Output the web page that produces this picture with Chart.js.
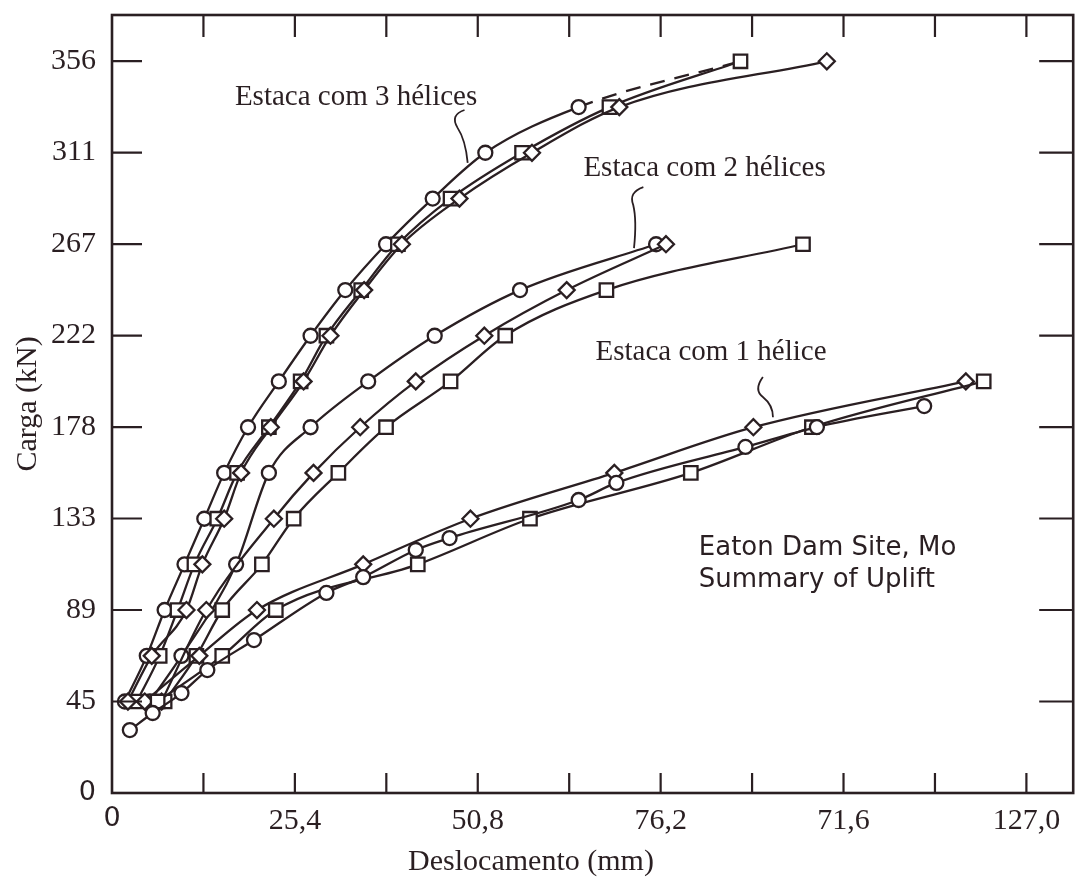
<!DOCTYPE html>
<html>
<head>
<meta charset="utf-8">
<script src="https://cdn.jsdelivr.net/npm/chart.js@4.4.1/dist/chart.umd.min.js"></script>
<style>
  html, body { margin: 0; padding: 0; background: #fff; }
  canvas { display: block; }
</style>
</head>
<body>
<canvas id="chart" width="1085" height="878"></canvas>
<script>
// Axis ticks (mm and kN; the load scale is in steps of 10 kips = 44.5 kN)
const xTickValues = [0, 12.7, 25.4, 38.1, 50.8, 63.5, 76.2, 88.9, 101.6, 114.3, 127.0];
const xTickLabels = ['0', '', '25,4', '', '50,8', '', '76,2', '', '71,6', '', '127,0'];
const yTickValues = [0, 44.5, 89, 133.5, 178, 222.5, 267, 311.5, 356];
const yTickLabels = ['0', '45', '89', '133', '178', '222', '267', '311', '356'];

// Estaca com 3 hélices
const h3aDisp = [1.79, 4.83, 7.31, 10.07, 12.82, 15.58, 18.89, 23.17, 27.58, 32.40, 38.06, 44.54, 51.85, 64.81, 87.29];
const h3aLoad = [44.5, 66.7, 89.0, 111.2, 133.4, 155.7, 177.9, 200.2, 222.4, 244.6, 266.9, 289.1, 311.4, 333.6, 355.9];
const h3bDisp = [3.45, 6.62, 9.10, 11.45, 14.62, 17.37, 21.79, 26.20, 29.78, 34.61, 39.71, 47.02, 56.95, 69.09, 87.29];
const h3bLoad = [44.5, 66.7, 89.0, 111.2, 133.4, 155.7, 177.9, 200.2, 222.4, 244.6, 266.9, 289.1, 311.4, 333.6, 355.9];
const h3cDisp = [2.21, 5.52, 10.34, 12.55, 15.58, 17.93, 22.06, 26.61, 30.34, 35.02, 40.26, 48.26, 58.33, 70.46, 99.28];
const h3cLoad = [44.5, 66.7, 89.0, 111.2, 133.4, 155.7, 177.9, 200.2, 222.4, 244.6, 266.9, 289.1, 311.4, 333.6, 355.9];

// Estaca com 2 hélices
const h2aDisp = [5.24, 9.65, 17.24, 21.79, 27.58, 35.58, 44.82, 56.67, 75.57];
const h2aLoad = [44.5, 66.7, 111.2, 155.7, 177.9, 200.2, 222.4, 244.6, 266.9];
const h2bDisp = [6.89, 13.10, 22.48, 27.99, 34.47, 42.19, 51.71, 63.15, 76.94];
const h2bLoad = [44.5, 89.0, 133.4, 155.7, 177.9, 200.2, 222.4, 244.6, 266.9];
const h2cDisp = [7.31, 11.72, 15.31, 20.82, 25.23, 31.44, 38.06, 47.02, 54.61, 68.67, 95.97];
const h2cLoad = [44.5, 66.7, 89.0, 111.2, 133.4, 155.7, 177.9, 200.2, 222.4, 244.6, 266.9];

// Estaca com 1 hélice
const h1aDisp = [4.55, 12.13, 20.13, 34.89, 49.78, 69.77, 89.08, 118.59];
const h1aLoad = [44.5, 66.7, 89.0, 111.2, 133.4, 155.7, 177.9, 200.2];
const h1bDisp = [6.34, 15.31, 22.75, 42.47, 58.05, 80.39, 97.21, 121.07];
const h1bLoad = [44.5, 66.7, 89.0, 111.2, 133.4, 155.7, 177.9, 200.2];
const h1cDisp = [2.48, 5.65, 9.65, 13.24, 19.72, 29.78, 34.89, 42.19, 46.88, 64.81, 70.05, 87.98, 97.90, 112.80];
const h1cLoad = [30.6, 38.9, 48.6, 59.8, 74.4, 97.3, 105.0, 118.2, 124.0, 142.5, 150.8, 168.3, 178.0, 188.2];

const INK = '#2a1f22';
const SERIF = '"Liberation Serif", "Times New Roman", serif';
const SANS = '"DejaVu Sans", sans-serif';

function series(disp, load, style, radius, extra) {
  return Object.assign({
    data: disp.map((x, i) => ({ x: x, y: load[i] })),
    showLine: true,
    borderColor: INK,
    borderWidth: 2.3,
    cubicInterpolationMode: 'monotone',
    fill: false,
    clip: false,
    pointStyle: style,
    pointRadius: radius,
    pointBackgroundColor: '#fff',
    pointBorderColor: INK,
    pointBorderWidth: 2.3
  }, extra || {});
}

const lastA = h3aDisp.length - 1;

const datasets = [
  series(h1cDisp, h1cLoad, 'circle', 7),
  series(h1bDisp, h1bLoad, 'rect', 9.5),
  series(h1aDisp, h1aLoad, 'rectRot', 8),
  series(h2cDisp, h2cLoad, 'rect', 9.5),
  series(h2bDisp, h2bLoad, 'rectRot', 8),
  series(h2aDisp, h2aLoad, 'circle', 7),
  series(h3cDisp, h3cLoad, 'rectRot', 8),
  series(h3bDisp, h3bLoad, 'rect', 9.5),
  series(h3aDisp, h3aLoad, 'circle', 7, {
    pointRadius: c => (c.dataIndex === lastA ? 0 : 7),
    segment: { borderDash: c => (c.p1DataIndex === lastA ? [15, 10] : undefined) }
  })
];

// Frame, inward tick marks, curve labels and their leaders
const decorations = {
  id: 'decorations',
  afterDatasetsDraw(chart) {
    const { ctx, chartArea: a, scales } = chart;
    const sx = scales.x, sy = scales.y;
    const P = (x, y) => [sx.getPixelForValue(x), sy.getPixelForValue(y)];
    ctx.save();
    ctx.strokeStyle = INK;
    ctx.lineCap = 'butt';

    // frame
    ctx.lineWidth = 2.6;
    ctx.strokeRect(a.left, a.top, a.right - a.left, a.bottom - a.top);

    // inward ticks
    ctx.lineWidth = 2.2;
    ctx.beginPath();
    xTickValues.forEach(v => {
      if (v === 0) return;
      const px = sx.getPixelForValue(v);
      ctx.moveTo(px, a.bottom); ctx.lineTo(px, a.bottom - 20);
      ctx.moveTo(px, a.top); ctx.lineTo(px, a.top + 22);
    });
    yTickValues.forEach(v => {
      if (v === 0) return;
      const py = sy.getPixelForValue(v);
      ctx.moveTo(a.left, py); ctx.lineTo(a.left + 30, py);
      ctx.moveTo(a.right, py); ctx.lineTo(a.right - 34, py);
    });
    ctx.stroke();

    // leaders from labels to curves
    ctx.lineWidth = 1.8;
    const leader = (p0, c1, p1, c2, p2) => {
      ctx.beginPath();
      ctx.moveTo(...P(...p0));
      ctx.quadraticCurveTo(...P(...c1), ...P(...p1));
      ctx.quadraticCurveTo(...P(...c2), ...P(...p2));
      ctx.stroke();
    };
    leader([48.96, 332.2], [46.9, 329.8], [48.0, 323.5], [49.1, 317.7], [49.4, 306.5]);
    leader([73.8, 294.7], [71.7, 292.2], [72.4, 285.9], [72.9, 278.6], [72.5, 265.0]);
    leader([90.4, 202.3], [89.1, 196.0], [90.4, 192.6], [91.8, 188.7], [91.8, 182.8]);

    // curve labels
    ctx.fillStyle = INK;
    ctx.textBaseline = 'middle';
    ctx.textAlign = 'center';
    ctx.font = '29px ' + SERIF;
    ctx.fillText('Estaca com 3 hélices', ...P(33.9, 338.5));
    ctx.fillText('Estaca com 2 hélices', ...P(82.3, 304.0));
    ctx.fillText('Estaca com 1 hélice', ...P(83.2, 214.5));

    ctx.textAlign = 'left';
    ctx.font = '26px ' + SANS;
    ctx.fillText('Eaton Dam Site, Mo', ...P(81.5, 119.2));
    ctx.fillText('Summary of Uplift', ...P(81.5, 103.6));

    // x axis title
    ctx.textAlign = 'center';
    ctx.font = '30px ' + SERIF;
    ctx.fillText('Deslocamento (mm)', a.left + 419, a.bottom + 69);
    ctx.restore();
  }
};

const tickFont = size => c => (c.tick && c.tick.value === 0
  ? { family: SANS, size: size - 3 }
  : { family: SERIF, size: size });

// keep the plot box fixed: no extra room reserved for overhanging labels
const fixBox = dims => s => {
  Object.assign(s, dims);
  s.paddingTop = 0; s.paddingBottom = 0; s.paddingLeft = 0; s.paddingRight = 0;
};

new Chart(document.getElementById('chart'), {
  type: 'scatter',
  data: { datasets: datasets },
  options: {
    responsive: false,
    animation: false,
    devicePixelRatio: 1,
    layout: { padding: { top: 15, right: 5, left: 0, bottom: 0 } },
    plugins: { legend: { display: false }, tooltip: { enabled: false } },
    scales: {
      x: {
        type: 'linear', min: 0, max: 133.5,
        afterBuildTicks: s => { s.ticks = xTickValues.map(v => ({ value: v })); },
        afterFit: fixBox({ height: 85 }),
        grid: { display: false, drawTicks: false },
        border: { display: false },
        ticks: {
          autoSkip: false, maxRotation: 0, padding: 10, color: INK,
          font: tickFont(30),
          callback: (v, i) => xTickLabels[i]
        }
      },
      y: {
        type: 'linear', min: 0, max: 378.4,
        afterBuildTicks: s => { s.ticks = yTickValues.map(v => ({ value: v })); },
        afterFit: fixBox({ width: 112 }),
        grid: { display: false, drawTicks: false },
        border: { display: false },
        title: {
          display: true, text: 'Carga (kN)', color: INK,
          font: { family: SERIF, size: 30 },
          padding: { top: 10, bottom: 0 }
        },
        ticks: {
          autoSkip: false, padding: 16, color: INK,
          font: tickFont(30),
          callback: (v, i) => yTickLabels[i]
        }
      }
    }
  },
  plugins: [decorations]
});
</script>
</body>
</html>
